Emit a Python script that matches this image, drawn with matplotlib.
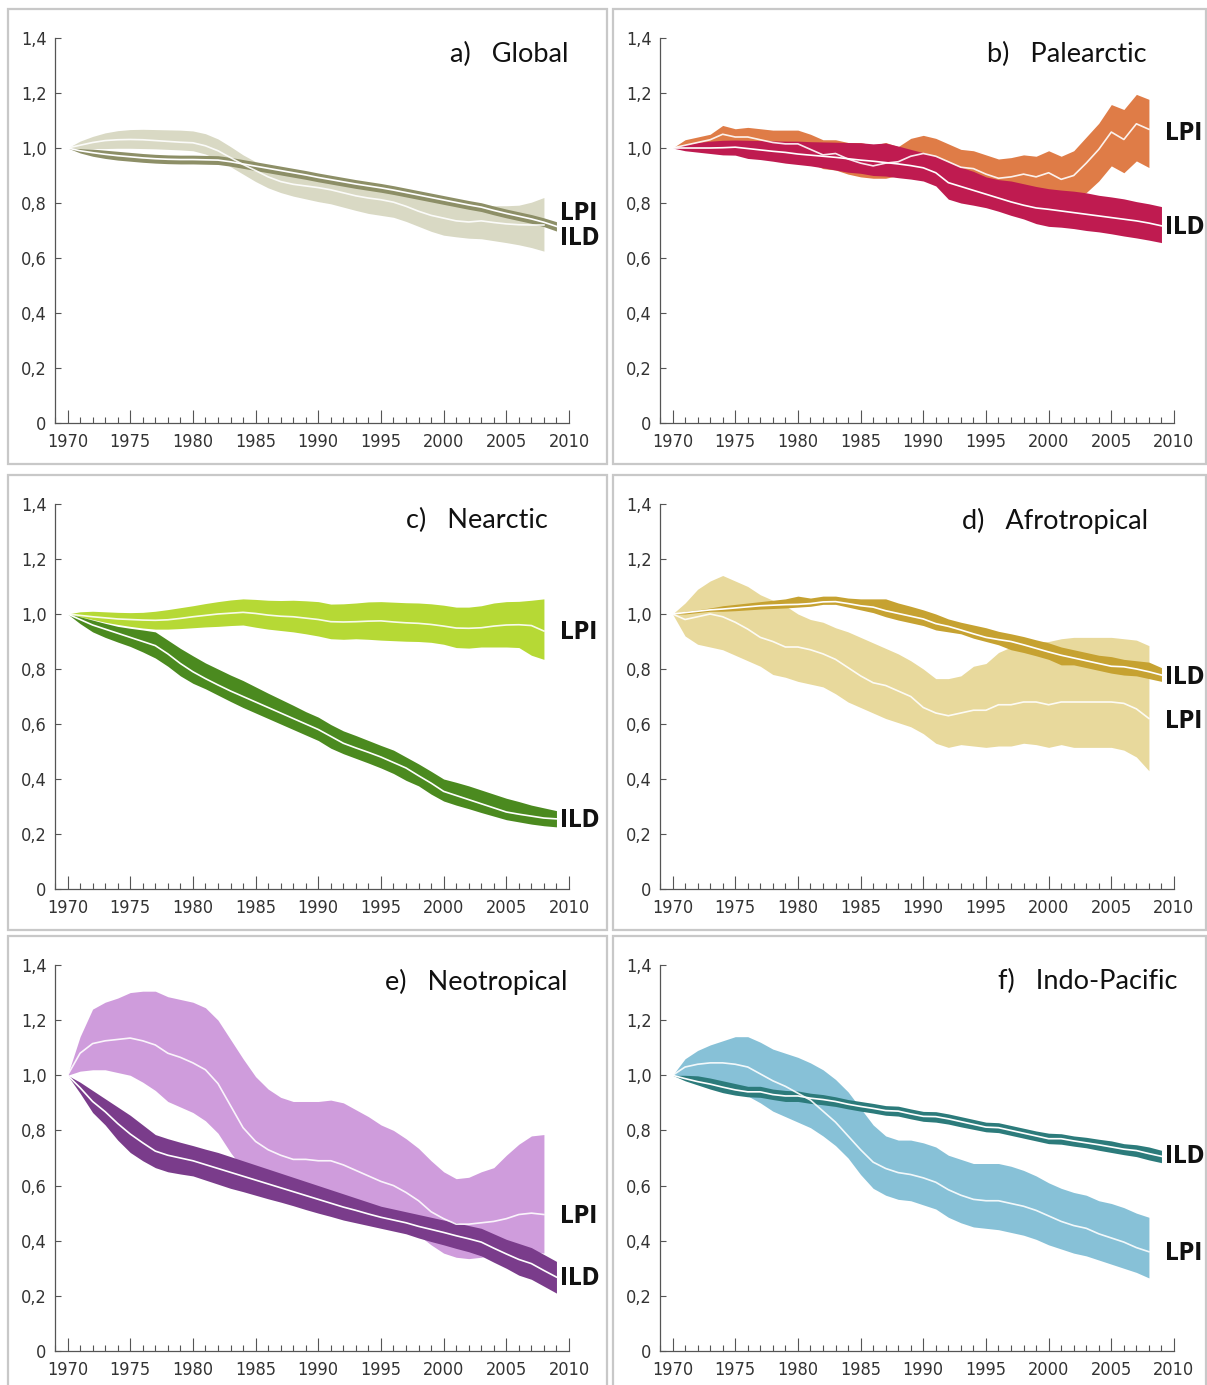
import numpy as np
import matplotlib.pyplot as plt
from matplotlib import font_manager
from matplotlib.patches import Rectangle
from matplotlib.ticker import MultipleLocator, FixedLocator, FixedFormatter

# narrow face for ticks and series labels, if one is installed
_entries = [(f.name, f.stretch) for f in font_manager.fontManager.ttflist]
if ('DejaVu Sans', 'condensed') in _entries:
    NARROW = dict(family='DejaVu Sans', stretch='condensed')
    tick_size, tag_size = 13, 17
elif any(n == 'Liberation Sans Narrow' for n, _ in _entries):
    NARROW = dict(family='Liberation Sans Narrow', stretch='normal')
    tick_size, tag_size = 13, 18
else:
    NARROW = dict(family='Roboto', stretch='normal')
    tick_size, tag_size = 11.5, 16

plt.rcParams['font.family'] = [NARROW['family'], 'DejaVu Sans']
plt.rcParams['font.stretch'] = NARROW['stretch']

W, H = 1207, 1385

years_lpi = np.arange(1970, 2009)   # 1970..2008
years_ild = np.arange(1970, 2010)   # 1970..2009

# a) Global
a_lpi = [1.000, 1.010, 1.020, 1.027, 1.030, 1.031, 1.030, 1.027, 1.024, 1.021, 1.019, 1.008, 0.990, 0.965, 0.940, 0.918, 0.895, 0.878, 0.868, 0.862,
         0.856, 0.848, 0.837, 0.826, 0.818, 0.812, 0.803, 0.788, 0.770, 0.755, 0.745, 0.735, 0.731, 0.735, 0.729, 0.724, 0.721, 0.720, 0.720]
a_lpi_hi = [1.000, 1.025, 1.042, 1.055, 1.063, 1.067, 1.068, 1.067, 1.066, 1.065, 1.062, 1.052, 1.033, 1.005, 0.975, 0.950, 0.930, 0.915, 0.905, 0.898,
            0.890, 0.883, 0.875, 0.867, 0.860, 0.855, 0.848, 0.838, 0.830, 0.822, 0.815, 0.807, 0.800, 0.795, 0.790, 0.790, 0.792, 0.803, 0.820]
a_lpi_lo = [1.000, 0.998, 0.998, 0.998, 0.999, 0.999, 0.998, 0.997, 0.995, 0.993, 0.990, 0.978, 0.958, 0.932, 0.905, 0.878, 0.855, 0.838, 0.825, 0.815,
            0.805, 0.797, 0.785, 0.773, 0.762, 0.755, 0.748, 0.733, 0.715, 0.697, 0.683, 0.677, 0.672, 0.670, 0.663, 0.656, 0.648, 0.638, 0.625]
a_ild = [1.000, 0.990, 0.983, 0.977, 0.972, 0.968, 0.964, 0.961, 0.959, 0.958, 0.958, 0.957, 0.956, 0.950, 0.942, 0.934, 0.926, 0.918, 0.910, 0.902,
         0.893, 0.885, 0.877, 0.869, 0.862, 0.855, 0.847, 0.838, 0.829, 0.820, 0.811, 0.802, 0.793, 0.785, 0.773, 0.762, 0.752, 0.742, 0.730, 0.715]
a_ild_hi = [1.000, 0.998, 0.996, 0.992, 0.988, 0.984, 0.980, 0.977, 0.975, 0.974, 0.974, 0.973, 0.972, 0.966, 0.958, 0.950, 0.942, 0.934, 0.926, 0.918,
            0.909, 0.901, 0.893, 0.885, 0.878, 0.871, 0.863, 0.854, 0.845, 0.836, 0.827, 0.818, 0.809, 0.801, 0.789, 0.778, 0.768, 0.758, 0.746, 0.732]
a_ild_lo = [1.000, 0.982, 0.970, 0.962, 0.956, 0.952, 0.948, 0.945, 0.943, 0.942, 0.942, 0.941, 0.940, 0.934, 0.926, 0.918, 0.910, 0.902, 0.894, 0.886,
            0.877, 0.869, 0.861, 0.853, 0.846, 0.839, 0.831, 0.822, 0.813, 0.804, 0.795, 0.786, 0.777, 0.769, 0.757, 0.746, 0.736, 0.726, 0.714, 0.698]

# b) Palearctic
b_lpi = [1.000, 1.010, 1.020, 1.030, 1.050, 1.040, 1.040, 1.030, 1.020, 1.015, 1.015, 0.995, 0.975, 0.980, 0.960, 0.945, 0.935, 0.945, 0.950, 0.970,
         0.980, 0.970, 0.950, 0.930, 0.925, 0.905, 0.890, 0.895, 0.905, 0.895, 0.910, 0.886, 0.900, 0.945, 0.995, 1.058, 1.031, 1.088, 1.068]
b_lpi_hi = [1.000, 1.030, 1.040, 1.050, 1.082, 1.070, 1.075, 1.070, 1.065, 1.065, 1.065, 1.050, 1.030, 1.030, 1.020, 1.020, 1.010, 1.020, 1.005, 1.035,
            1.046, 1.035, 1.015, 0.995, 0.990, 0.975, 0.960, 0.965, 0.975, 0.970, 0.990, 0.970, 0.990, 1.040, 1.090, 1.158, 1.140, 1.195, 1.177]
b_lpi_lo = [1.000, 0.995, 1.000, 1.010, 1.020, 1.015, 1.010, 1.000, 0.990, 0.975, 0.965, 0.945, 0.925, 0.920, 0.905, 0.895, 0.890, 0.890, 0.900, 0.910,
            0.915, 0.905, 0.885, 0.865, 0.860, 0.840, 0.825, 0.830, 0.840, 0.830, 0.835, 0.810, 0.820, 0.838, 0.880, 0.935, 0.910, 0.953, 0.929]
b_ild = [1.000, 1.000, 1.000, 1.000, 1.001, 1.003, 0.998, 0.993, 0.988, 0.984, 0.978, 0.974, 0.970, 0.966, 0.961, 0.956, 0.952, 0.947, 0.942, 0.936,
         0.928, 0.910, 0.874, 0.860, 0.846, 0.832, 0.818, 0.804, 0.792, 0.782, 0.777, 0.771, 0.765, 0.759, 0.753, 0.747, 0.741, 0.735, 0.727, 0.717]
b_ild_hi = [1.000, 1.012, 1.020, 1.025, 1.028, 1.029, 1.028, 1.027, 1.026, 1.025, 1.025, 1.023, 1.022, 1.021, 1.020, 1.019, 1.015, 1.018, 1.007, 0.995,
            0.983, 0.970, 0.950, 0.930, 0.915, 0.895, 0.885, 0.880, 0.870, 0.860, 0.852, 0.847, 0.843, 0.837, 0.828, 0.822, 0.815, 0.805, 0.797, 0.787]
b_ild_lo = [1.000, 0.990, 0.985, 0.980, 0.975, 0.974, 0.962, 0.958, 0.952, 0.945, 0.940, 0.935, 0.928, 0.920, 0.912, 0.908, 0.900, 0.898, 0.892, 0.887,
            0.880, 0.862, 0.814, 0.800, 0.792, 0.783, 0.770, 0.755, 0.742, 0.725, 0.715, 0.712, 0.707, 0.700, 0.695, 0.688, 0.680, 0.673, 0.665, 0.656]

# c) Nearctic
c_lpi = [1.000, 0.995, 0.990, 0.986, 0.982, 0.980, 0.978, 0.977, 0.979, 0.984, 0.990, 0.995, 1.000, 1.003, 1.006, 1.002, 0.996, 0.992, 0.990, 0.985,
         0.980, 0.972, 0.971, 0.972, 0.974, 0.975, 0.971, 0.968, 0.966, 0.962, 0.956, 0.949, 0.948, 0.950, 0.956, 0.960, 0.961, 0.958, 0.938]
c_lpi_hi = [1.000, 1.008, 1.010, 1.008, 1.006, 1.005, 1.006, 1.010, 1.016, 1.023, 1.030, 1.038, 1.045, 1.051, 1.055, 1.053, 1.050, 1.049, 1.050, 1.048,
            1.045, 1.036, 1.037, 1.040, 1.044, 1.045, 1.043, 1.041, 1.040, 1.037, 1.032, 1.025, 1.025, 1.030, 1.040, 1.045, 1.046, 1.050, 1.055]
c_lpi_lo = [1.000, 0.990, 0.980, 0.970, 0.962, 0.955, 0.949, 0.945, 0.945, 0.947, 0.950, 0.953, 0.955, 0.958, 0.960, 0.952, 0.945, 0.940, 0.935, 0.928,
            0.920, 0.910, 0.908, 0.910, 0.908, 0.905, 0.903, 0.901, 0.900, 0.897, 0.890, 0.878, 0.876, 0.880, 0.880, 0.880, 0.878, 0.850, 0.835]
c_ild = [1.000, 0.980, 0.960, 0.945, 0.930, 0.915, 0.900, 0.885, 0.855, 0.820, 0.790, 0.765, 0.742, 0.720, 0.700, 0.680, 0.660, 0.640, 0.620, 0.600,
         0.580, 0.555, 0.530, 0.513, 0.497, 0.480, 0.460, 0.440, 0.412, 0.385, 0.355, 0.340, 0.325, 0.310, 0.295, 0.280, 0.272, 0.265, 0.258, 0.255]
c_ild_hi = [1.000, 0.990, 0.978, 0.966, 0.955, 0.948, 0.942, 0.935, 0.905, 0.875, 0.848, 0.822, 0.800, 0.778, 0.758, 0.735, 0.712, 0.690, 0.668, 0.645,
            0.625, 0.598, 0.575, 0.558, 0.540, 0.522, 0.505, 0.480, 0.455, 0.428, 0.400, 0.388, 0.375, 0.360, 0.345, 0.330, 0.318, 0.305, 0.295, 0.285]
c_ild_lo = [1.000, 0.965, 0.935, 0.915, 0.898, 0.882, 0.862, 0.840, 0.810, 0.775, 0.748, 0.728, 0.705, 0.682, 0.660, 0.640, 0.620, 0.600, 0.580, 0.560,
            0.540, 0.512, 0.492, 0.475, 0.458, 0.440, 0.420, 0.395, 0.375, 0.345, 0.320, 0.305, 0.292, 0.278, 0.265, 0.252, 0.244, 0.236, 0.230, 0.226]

# d) Afrotropical
d_lpi = [1.000, 0.980, 0.990, 1.000, 0.990, 0.970, 0.945, 0.915, 0.900, 0.880, 0.880, 0.870, 0.855, 0.835, 0.805, 0.775, 0.750, 0.740, 0.720, 0.700,
         0.660, 0.640, 0.630, 0.640, 0.650, 0.650, 0.670, 0.670, 0.680, 0.680, 0.670, 0.680, 0.680, 0.680, 0.680, 0.680, 0.675, 0.655, 0.620]
d_lpi_hi = [1.000, 1.040, 1.090, 1.120, 1.140, 1.120, 1.100, 1.070, 1.050, 1.030, 1.000, 0.980, 0.970, 0.950, 0.935, 0.915, 0.895, 0.875, 0.855, 0.830,
            0.800, 0.765, 0.765, 0.775, 0.810, 0.820, 0.860, 0.880, 0.890, 0.900, 0.900, 0.910, 0.915, 0.915, 0.915, 0.915, 0.910, 0.905, 0.885]
d_lpi_lo = [1.000, 0.920, 0.890, 0.880, 0.870, 0.850, 0.830, 0.810, 0.780, 0.770, 0.755, 0.745, 0.735, 0.710, 0.680, 0.660, 0.640, 0.620, 0.605, 0.590,
            0.565, 0.530, 0.515, 0.525, 0.520, 0.515, 0.520, 0.520, 0.530, 0.525, 0.515, 0.525, 0.515, 0.515, 0.515, 0.515, 0.505, 0.480, 0.430]
d_ild = [1.000, 1.005, 1.010, 1.015, 1.018, 1.022, 1.026, 1.030, 1.032, 1.034, 1.035, 1.038, 1.044, 1.045, 1.038, 1.030, 1.025, 1.012, 1.002, 0.992,
         0.982, 0.965, 0.955, 0.942, 0.928, 0.915, 0.907, 0.900, 0.888, 0.875, 0.862, 0.850, 0.840, 0.830, 0.820, 0.810, 0.808, 0.800, 0.790, 0.778]
d_ild_hi = [1.000, 1.010, 1.015, 1.022, 1.030, 1.035, 1.040, 1.045, 1.050, 1.055, 1.065, 1.058, 1.065, 1.065, 1.058, 1.055, 1.055, 1.055, 1.040, 1.028,
            1.015, 1.000, 0.982, 0.970, 0.960, 0.950, 0.937, 0.928, 0.918, 0.906, 0.895, 0.880, 0.870, 0.860, 0.850, 0.845, 0.835, 0.830, 0.825, 0.805]
d_ild_lo = [1.000, 1.000, 1.005, 1.010, 1.010, 1.012, 1.015, 1.018, 1.020, 1.022, 1.025, 1.028, 1.035, 1.035, 1.025, 1.015, 1.005, 0.990, 0.978, 0.968,
            0.958, 0.942, 0.935, 0.928, 0.912, 0.900, 0.888, 0.870, 0.860, 0.848, 0.835, 0.815, 0.815, 0.805, 0.795, 0.785, 0.778, 0.775, 0.765, 0.755]

# e) Neotropical
e_lpi = [1.000, 1.080, 1.115, 1.125, 1.130, 1.135, 1.125, 1.110, 1.080, 1.065, 1.045, 1.020, 0.970, 0.890, 0.810, 0.760, 0.730, 0.710, 0.695, 0.695,
         0.690, 0.690, 0.675, 0.655, 0.635, 0.615, 0.600, 0.575, 0.545, 0.505, 0.480, 0.460, 0.460, 0.465, 0.470, 0.480, 0.495, 0.500, 0.495]
e_lpi_hi = [1.000, 1.140, 1.240, 1.265, 1.280, 1.300, 1.305, 1.305, 1.285, 1.275, 1.265, 1.245, 1.200, 1.130, 1.060, 0.995, 0.950, 0.920, 0.905, 0.905,
            0.905, 0.910, 0.900, 0.875, 0.850, 0.820, 0.800, 0.770, 0.735, 0.690, 0.650, 0.625, 0.630, 0.650, 0.665, 0.710, 0.750, 0.780, 0.785]
e_lpi_lo = [1.000, 1.015, 1.020, 1.020, 1.010, 1.000, 0.975, 0.945, 0.905, 0.885, 0.865, 0.835, 0.790, 0.720, 0.660, 0.615, 0.590, 0.575, 0.560, 0.550,
            0.540, 0.530, 0.520, 0.510, 0.500, 0.485, 0.470, 0.450, 0.420, 0.385, 0.355, 0.340, 0.335, 0.340, 0.350, 0.355, 0.360, 0.360, 0.355]
e_ild = [1.000, 0.955, 0.905, 0.868, 0.825, 0.787, 0.755, 0.725, 0.710, 0.700, 0.690, 0.676, 0.662, 0.648, 0.634, 0.620, 0.606, 0.592, 0.578, 0.564,
         0.550, 0.536, 0.522, 0.510, 0.497, 0.485, 0.475, 0.465, 0.452, 0.441, 0.430, 0.418, 0.407, 0.395, 0.373, 0.352, 0.332, 0.317, 0.292, 0.268]
e_ild_hi = [1.000, 0.975, 0.945, 0.915, 0.885, 0.855, 0.820, 0.785, 0.770, 0.757, 0.745, 0.732, 0.720, 0.705, 0.690, 0.675, 0.660, 0.645, 0.630, 0.615,
            0.600, 0.585, 0.570, 0.555, 0.540, 0.525, 0.515, 0.505, 0.495, 0.485, 0.475, 0.465, 0.455, 0.445, 0.425, 0.405, 0.390, 0.375, 0.350, 0.325]
e_ild_lo = [1.000, 0.935, 0.865, 0.820, 0.765, 0.720, 0.690, 0.665, 0.650, 0.642, 0.635, 0.620, 0.605, 0.590, 0.578, 0.565, 0.552, 0.540, 0.527, 0.513,
            0.500, 0.488, 0.475, 0.465, 0.455, 0.445, 0.435, 0.425, 0.410, 0.397, 0.385, 0.372, 0.360, 0.345, 0.322, 0.300, 0.275, 0.260, 0.235, 0.210]

# f) Indo-Pacific
f_lpi = [1.000, 1.030, 1.040, 1.045, 1.045, 1.040, 1.030, 1.005, 0.980, 0.960, 0.935, 0.910, 0.870, 0.830, 0.780, 0.730, 0.685, 0.662, 0.647, 0.640,
         0.628, 0.612, 0.585, 0.565, 0.550, 0.545, 0.545, 0.535, 0.525, 0.510, 0.490, 0.470, 0.455, 0.445, 0.425, 0.410, 0.395, 0.375, 0.360]
f_lpi_hi = [1.000, 1.060, 1.090, 1.110, 1.125, 1.140, 1.140, 1.120, 1.095, 1.080, 1.065, 1.045, 1.020, 0.985, 0.940, 0.880, 0.820, 0.780, 0.765, 0.765,
            0.755, 0.740, 0.710, 0.695, 0.680, 0.680, 0.680, 0.670, 0.655, 0.635, 0.610, 0.590, 0.575, 0.565, 0.545, 0.535, 0.520, 0.500, 0.485]
f_lpi_lo = [1.000, 0.990, 0.975, 0.965, 0.950, 0.935, 0.925, 0.900, 0.870, 0.850, 0.830, 0.810, 0.780, 0.745, 0.700, 0.640, 0.590, 0.565, 0.550, 0.545,
            0.530, 0.515, 0.485, 0.465, 0.450, 0.445, 0.440, 0.430, 0.420, 0.405, 0.385, 0.370, 0.355, 0.345, 0.330, 0.315, 0.300, 0.285, 0.265]
f_ild = [1.000, 0.988, 0.977, 0.968, 0.957, 0.947, 0.940, 0.940, 0.930, 0.925, 0.925, 0.917, 0.912, 0.905, 0.895, 0.887, 0.880, 0.872, 0.870, 0.860,
         0.851, 0.850, 0.842, 0.832, 0.822, 0.812, 0.810, 0.800, 0.790, 0.780, 0.770, 0.770, 0.762, 0.755, 0.748, 0.740, 0.732, 0.727, 0.716, 0.706]
f_ild_hi = [1.000, 1.000, 0.998, 0.990, 0.980, 0.970, 0.960, 0.960, 0.950, 0.945, 0.943, 0.935, 0.930, 0.922, 0.912, 0.905, 0.898, 0.890, 0.888, 0.878,
            0.869, 0.868, 0.860, 0.850, 0.840, 0.830, 0.828, 0.818, 0.808, 0.798, 0.790, 0.788, 0.780, 0.775, 0.768, 0.762, 0.752, 0.748, 0.740, 0.728]
f_ild_lo = [1.000, 0.980, 0.965, 0.950, 0.937, 0.928, 0.922, 0.920, 0.912, 0.905, 0.905, 0.898, 0.893, 0.887, 0.878, 0.870, 0.863, 0.855, 0.852, 0.842,
            0.833, 0.830, 0.823, 0.813, 0.804, 0.795, 0.792, 0.782, 0.772, 0.762, 0.752, 0.750, 0.743, 0.737, 0.728, 0.720, 0.712, 0.705, 0.693, 0.683]

titles = ['a)   Global', 'b)   Palearctic', 'c)   Nearctic',
          'd)   Afrotropical', 'e)   Neotropical', 'f)   Indo-Pacific']
title_x = [2010.0, 2007.8, 2008.3, 2007.9, 2009.9, 2010.3]
lpi_colors = ['#d9d9c4', '#df7c47', '#b6d935', '#e8d99c', '#cf9cdc', '#87c1d7']
ild_colors = ['#8d8f67', '#bf1b50', '#4b8a1f', '#c6a231', '#7a3c8b', '#2c7b7b']
lpi_label_y = [0.765, 1.055, 0.935, 0.611, 0.491, 0.356]
ild_label_y = [0.673, 0.713, 0.251, 0.771, 0.265, 0.709]

panels = [
    (a_lpi, a_lpi_lo, a_lpi_hi, a_ild, a_ild_lo, a_ild_hi),
    (b_lpi, b_lpi_lo, b_lpi_hi, b_ild, b_ild_lo, b_ild_hi),
    (c_lpi, c_lpi_lo, c_lpi_hi, c_ild, c_ild_lo, c_ild_hi),
    (d_lpi, d_lpi_lo, d_lpi_hi, d_ild, d_ild_lo, d_ild_hi),
    (e_lpi, e_lpi_lo, e_lpi_hi, e_ild, e_ild_lo, e_ild_hi),
    (f_lpi, f_lpi_lo, f_lpi_hi, f_ild, f_ild_lo, f_ild_hi),
]

ytick_vals = [0, 0.2, 0.4, 0.6, 0.8, 1.0, 1.2, 1.4]
ytick_text = ['0', '0,2', '0,4', '0,6', '0,8', '1,0', '1,2', '1,4']

fig = plt.figure(figsize=(W / 100, H / 100), dpi=100)

# panel frames (pixel boxes)
frames = [(8, 9, 607, 464), (613, 9, 1206, 464),
          (8, 475, 607, 930), (613, 475, 1206, 930),
          (8, 936, 607, 1392), (613, 936, 1206, 1392)]
for x0, y0, x1, y1 in frames:
    fig.patches.append(Rectangle((x0 / W, 1 - y1 / H), (x1 - x0) / W, (y1 - y0) / H,
                                 transform=fig.transFigure, fill=False,
                                 edgecolor='#c8c8c8', lw=1.6))

ax_left = [55, 660]
ax_top = [38, 504, 965]
ax_bottom = [423, 889, 1351]

for i, (lpi, lpi_lo, lpi_hi, ild, ild_lo, ild_hi) in enumerate(panels):
    row, col = divmod(i, 2)
    l = ax_left[col] / W
    b = 1 - ax_bottom[row] / H
    ax = fig.add_axes([l, b, 514 / W, (ax_bottom[row] - ax_top[row]) / H])

    ax.fill_between(years_lpi, lpi_lo, lpi_hi, color=lpi_colors[i], lw=0, zorder=1)
    ax.fill_between(years_ild, ild_lo, ild_hi, color=ild_colors[i], lw=0, zorder=2)
    ax.plot(years_ild, ild, color='white', lw=1.2, zorder=3)
    ax.plot(years_lpi, lpi, color='white', lw=1.2, alpha=0.9, zorder=4)

    ax.set_xlim(1969, 2010)
    ax.set_ylim(0, 1.4)
    for s in ['top', 'right']:
        ax.spines[s].set_visible(False)
    for s in ['left', 'bottom']:
        ax.spines[s].set_color('#555555')
        ax.spines[s].set_linewidth(0.9)

    ax.xaxis.set_major_locator(MultipleLocator(5))
    ax.xaxis.set_minor_locator(MultipleLocator(1))
    ax.yaxis.set_major_locator(FixedLocator(ytick_vals))
    ax.yaxis.set_major_formatter(FixedFormatter(ytick_text))
    ax.tick_params(axis='x', which='major', direction='in', length=9.5, width=0.8,
                   color='#555555', pad=7, labelsize=tick_size, labelcolor='#333333')
    ax.tick_params(axis='x', which='minor', direction='in', length=4.5, width=0.8,
                   color='#555555')
    ax.tick_params(axis='y', which='major', direction='in', length=4.5, width=0.8,
                   color='#555555', pad=6, labelsize=tick_size, labelcolor='#333333')

    ax.text(title_x[i], 1.34, titles[i], ha='right', va='center', fontsize=19.5,
            family=['Lato', 'DejaVu Sans'], fontstretch='normal', color='#111111')
    ax.text(2009.25, lpi_label_y[i], 'LPI', ha='left', va='center', fontsize=tag_size,
            fontweight='bold', color='#111111', clip_on=False)
    ax.text(2009.25, ild_label_y[i], 'ILD', ha='left', va='center', fontsize=tag_size,
            fontweight='bold', color='#111111', clip_on=False)

fig.savefig('out.png', dpi=100)
